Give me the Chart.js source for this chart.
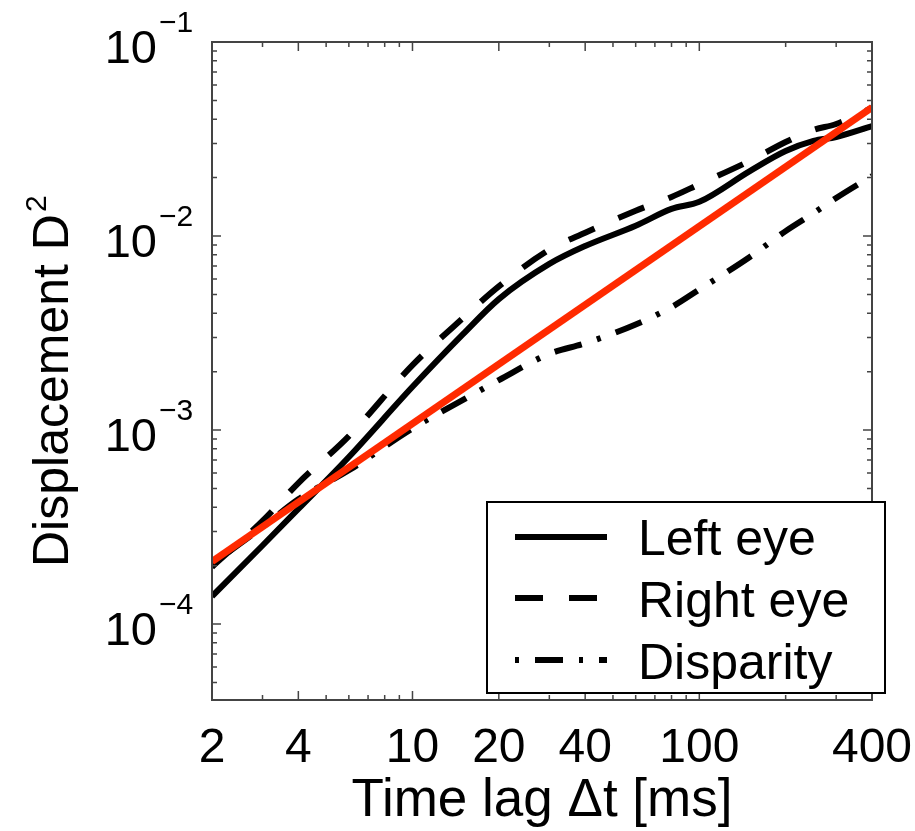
<!DOCTYPE html>
<html>
<head>
<meta charset="utf-8">
<script src="https://cdn.jsdelivr.net/npm/chart.js@4/dist/chart.umd.min.js"></script>
<style>
  body { margin: 0; background: #fff; }
  #grafica { display: block; }
</style>
</head>
<body>
<canvas id="grafica" width="915" height="831"></canvas>
<script>
// datos (escala log-log)
const lagMs = [2, 3, 4, 6, 10, 15, 20, 30, 40, 60, 80, 100, 150, 200, 250, 300, 400];
const leftEye = [1.39e-4, 2.54e-4, 3.92e-4, 7.26e-4, 1.67e-3, 3.12e-3, 4.73e-3, 7.18e-3, 8.88e-3, 1.13e-2, 1.38e-2, 1.5e-2, 2.16e-2, 2.74e-2, 3.09e-2, 3.24e-2, 3.69e-2];
const rightEye = [1.97e-4, 3.4e-4, 5.33e-4, 9.3e-4, 2.16e-3, 3.78e-3, 5.5e-3, 8.5e-3, 1.04e-2, 1.35e-2, 1.59e-2, 1.85e-2, 2.44e-2, 3.05e-2, 3.52e-2, 3.78e-2, 4.57e-2];
const disparity = [2.04e-4, 3.16e-4, 4.4e-4, 6.2e-4, 1.02e-3, 1.43e-3, 1.81e-3, 2.47e-3, 2.8e-3, 3.5e-3, 4.3e-3, 5.3e-3, 7.8e-3, 1.06e-2, 1.31e-2, 1.57e-2, 2.04e-2];

// recta de ajuste
const fitLag = [2, 400];
const fitValues = [2.1e-4, 4.6e-2];

const xTicks = [2, 4, 10, 20, 40, 100, 400];
const yExponents = [-1, -2, -3, -4];
const legendNames = ['Left eye', 'Right eye', 'Disparity'];

const fuente = '"Liberation Sans", Arial, Helvetica, sans-serif';
const dashes = [[], [28, 26], [4, 16, 28, 16]];

function puntos(xs, ys) {
    return xs.map((x, i) => ({ x: x, y: ys[i] }));
}

// marco, marcas menores, etiquetas 10^n, titulo Y y leyenda
const decoracion = {
    id: 'decoracion',
    afterDraw(chart) {
        const ctx = chart.ctx;
        const a = chart.chartArea;
        const xs = chart.scales.x;
        const ys = chart.scales.y;
        ctx.save();

        ctx.strokeStyle = '#444';
        ctx.lineWidth = 2;
        ctx.strokeRect(a.left, a.top, a.right - a.left, a.bottom - a.top);

        // marcas en x
        ctx.lineWidth = 1.5;
        for (let e = 0; e <= 2; e++) {
            for (let k = 1; k <= 9; k++) {
                const v = k * Math.pow(10, e);
                if (v < 2 || v > 400) continue;
                const px = xs.getPixelForValue(v);
                const len = xTicks.includes(v) ? 9 : 5;
                ctx.beginPath();
                ctx.moveTo(px, a.bottom); ctx.lineTo(px, a.bottom - len);
                ctx.moveTo(px, a.top); ctx.lineTo(px, a.top + len);
                ctx.stroke();
            }
        }
        // marcas en y
        for (let e = -5; e <= -1; e++) {
            for (let k = 1; k <= 9; k++) {
                const v = k * Math.pow(10, e);
                if (v < ys.min || v > ys.max * 1.0001) continue;
                const py = ys.getPixelForValue(v);
                const len = k === 1 ? 9 : 5;
                ctx.beginPath();
                ctx.moveTo(a.left, py); ctx.lineTo(a.left + len, py);
                ctx.moveTo(a.right, py); ctx.lineTo(a.right - len, py);
                ctx.stroke();
            }
        }

        // etiquetas del eje y
        ctx.fillStyle = '#000';
        yExponents.forEach(ex => {
            const py = ys.getPixelForValue(Math.pow(10, ex));
            ctx.font = '47px ' + fuente;
            ctx.textAlign = 'right';
            ctx.textBaseline = 'alphabetic';
            ctx.fillText('10', 157, py + 21);
            ctx.font = '30px ' + fuente;
            ctx.textAlign = 'left';
            ctx.fillText('\u2212' + Math.abs(ex), 159, py - 10);
        });

        // titulo del eje y
        ctx.save();
        ctx.translate(68, 567);
        ctx.rotate(-Math.PI / 2);
        ctx.font = '50px ' + fuente;
        ctx.textAlign = 'left';
        const base = 'Displacement D';
        ctx.fillText(base, 0, 0);
        const w = ctx.measureText(base).width;
        ctx.font = '30px ' + fuente;
        ctx.fillText('2', w + 2, -22);
        ctx.restore();

        // leyenda
        const box = { x: 487, y: 502, w: 398, h: 191 };
        ctx.fillStyle = '#fff';
        ctx.fillRect(box.x, box.y, box.w, box.h);
        ctx.strokeStyle = '#000';
        ctx.lineWidth = 2;
        ctx.strokeRect(box.x, box.y, box.w, box.h);
        const filas = [537, 598, 660];
        const bases = [555, 617, 679];
        legendNames.forEach((nombre, i) => {
            ctx.strokeStyle = '#000';
            ctx.lineWidth = 6;
            ctx.setLineDash(dashes[i]);
            ctx.beginPath();
            ctx.moveTo(515, filas[i]);
            ctx.lineTo(607, filas[i]);
            ctx.stroke();
            ctx.setLineDash([]);
            ctx.fillStyle = '#000';
            ctx.font = '50px ' + fuente;
            ctx.textAlign = 'left';
            ctx.textBaseline = 'alphabetic';
            ctx.fillText(nombre, 638, bases[i]);
        });

        ctx.restore();
    }
};

const series = [leftEye, rightEye, disparity];
const datasets = series.map((valores, i) => ({
    label: legendNames[i],
    data: puntos(lagMs, valores),
    borderColor: '#000',
    borderWidth: 6,
    borderDash: dashes[i],
    borderCapStyle: 'butt',
    pointRadius: 0,
    cubicInterpolationMode: 'monotone',
    order: 1
}));
datasets.push({
    label: 'Fit',
    data: puntos(fitLag, fitValues),
    borderColor: '#ff2a00',
    borderWidth: 7,
    pointRadius: 0,
    order: 0
});

new Chart(document.getElementById('grafica'), {
    type: 'line',
    data: { datasets: datasets },
    options: {
        responsive: false,
        animation: false,
        layout: { padding: { top: 42, right: 43, left: 0, bottom: 0 } },
        plugins: {
            legend: { display: false },
            tooltip: { enabled: false }
        },
        scales: {
            x: {
                type: 'logarithmic',
                min: 2,
                max: 400,
                afterBuildTicks: s => { s.ticks = xTicks.map(v => ({ value: v })); },
                afterFit: s => {
                    s.height = 131;
                    s.paddingLeft = 0;
                    s.paddingRight = 0;
                },
                grid: { display: false, drawTicks: false },
                border: { display: false },
                ticks: {
                    color: '#000',
                    font: { family: fuente, size: 48 },
                    padding: 20,
                    maxRotation: 0,
                    autoSkip: false,
                    callback: v => String(v)
                },
                title: {
                    display: true,
                    text: 'Time lag \u0394t [ms]',
                    color: '#000',
                    font: { family: fuente, size: 53 },
                    padding: { top: 0, bottom: -2 }
                }
            },
            y: {
                type: 'logarithmic',
                min: 4.06e-5,
                max: 0.1,
                afterBuildTicks: s => { s.ticks = yExponents.map(e => ({ value: Math.pow(10, e) })); },
                afterFit: s => { s.width = 212; },
                grid: { display: false },
                border: { display: false },
                ticks: { display: false }
            }
        }
    },
    plugins: [decoracion]
});
</script>
</body>
</html>
